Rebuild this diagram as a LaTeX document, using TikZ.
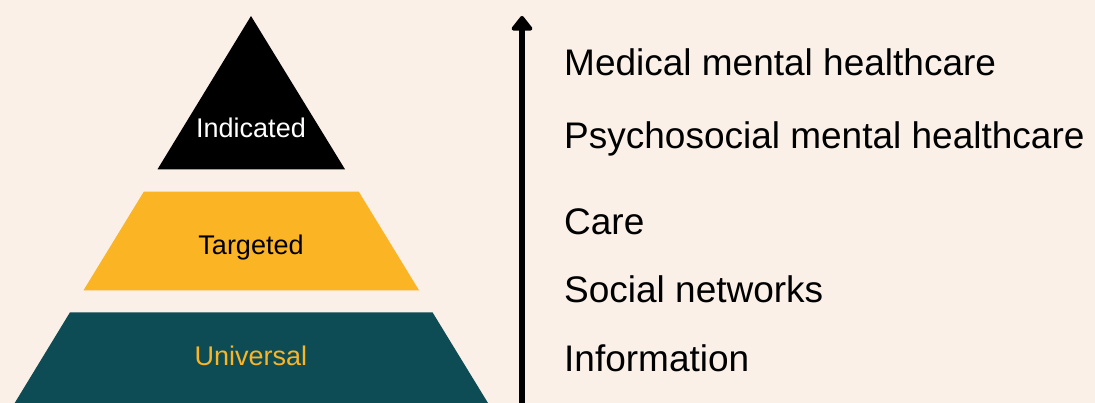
\documentclass[tikz,border=0pt]{standalone}
\usepackage{fontspec}
\setmainfont{Liberation Sans}
\usetikzlibrary{arrows.meta}
\definecolor{cream}{RGB}{250,240,231}
\definecolor{amber}{RGB}{251,180,36}
\definecolor{teal}{RGB}{14,76,85}
\tikzset{
  layerlabel/.style={anchor=base, inner sep=0pt, font=\fontsize{27}{30}\selectfont},
  level/.style={anchor=base west, inner sep=0pt, font=\fontsize{37}{40}\selectfont, text=black},
}
\begin{document}
\begin{tikzpicture}[x=1pt, y=-1pt]
  % canvas
  \fill[cream] (0,0) rectangle (1095,403);
  \useasboundingbox (0,0) rectangle (1095,403);

  % pyramid layers
  \fill[black] (251,16) -- (345,169.3) -- (157.5,169.3) -- cycle;
  \fill[amber] (143.8,191.7) -- (358.8,191.7) -- (419,290.3) -- (83.5,290.3) -- cycle;
  \fill[teal] (70,312.3) -- (432.5,312.3) -- (488,403) -- (14.7,403) -- cycle;

  \node[layerlabel, text=white] (indicated) at (251,137.3) {Indicated};
  \node[layerlabel, text=black] (targeted) at (251,255) {Targeted};
  \node[layerlabel, text=amber] (universal) at (251,365) {Universal};

  % escalation arrow
  \coordinate (arrowfoot) at (522,405);
  \coordinate (arrowhead) at (522,16);
  \draw[line width=6pt, -{Triangle[width=24pt, length=16pt, round]}] (arrowfoot) -- (arrowhead);

  % levels of care
  \node[level] (medical) at (564,76) {Medical mental healthcare};
  \node[level] (psycho) at (564,149) {Psychosocial mental healthcare};
  \node[level] (care) at (564,235) {Care};
  \node[level] (social) at (564,302) {Social networks};
  \node[level] (info) at (564,371) {Information};
\end{tikzpicture}
\end{document}
